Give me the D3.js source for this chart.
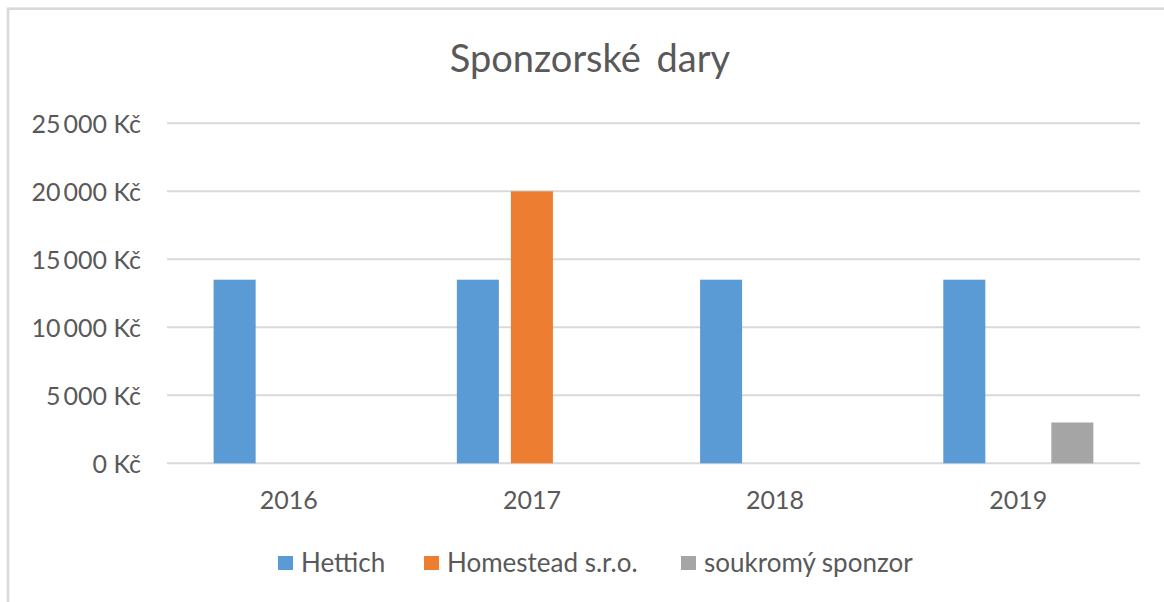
<!DOCTYPE html>
<html>
<head>
<meta charset="utf-8">
<script src="https://cdn.jsdelivr.net/npm/d3@7"></script>
<style>
    body { margin: 0; background: #fff; }
    svg { display: block; font-family: Lato, "Noto Sans", sans-serif; }
    .tick text { fill: #595959; }
</style>
</head>
<body>
<div id="chart"></div>
<script>
// chart data
var years = ['2016', '2017', '2018', '2019'];
var seriesNames = ['Hettich', 'Homestead s.r.o.', 'soukromý sponzor'];
var hettich = [13500, 13500, 13500, 13500];
var homestead = [0, 20000, 0, 0];
var soukromy = [0, 0, 0, 3000];
var yTicks = [0, 5000, 10000, 15000, 20000, 25000];
var colors = ['#5B9BD5', '#ED7D31', '#A5A5A5'];

var W = 1164, H = 602;
var svg = d3.select('#chart')
    .append('svg')
    .attr('width', W)
    .attr('height', H);

// outer frame of the chart object (runs off the right and bottom edge)
svg.append('rect')
    .attr('x', 8).attr('y', 8.7)
    .attr('width', 1300).attr('height', 800)
    .attr('fill', 'none')
    .attr('stroke', '#d9d9d9')
    .attr('stroke-width', 2.6);

// title
svg.append('text')
    .attr('x', 590).attr('y', 72)
    .attr('text-anchor', 'middle')
    .attr('fill', '#595959')
    .style('font-size', '38px')
    .style('word-spacing', '6px')
    .text('Sponzorské dary');

var plotL = 167, plotR = 1140, plotT = 123.3, plotB = 463.3;

var x = d3.scaleBand()
    .domain(years)
    .range([plotL, plotR])
    .paddingInner(0.383)
    .paddingOuter(0.1917);

var xs = d3.scaleBand()
    .domain(seriesNames)
    .range([0, x.bandwidth()])
    .paddingInner(0.222);

var y = d3.scaleLinear()
    .domain([0, 25000])
    .range([plotB, plotT]);

var cz = d3.formatLocale({ decimal: ',', thousands: '\u2009', grouping: [3], currency: ['', '\u00a0Kč'] });
var fmt = cz.format('$,.0f');

// gridlines
svg.append('g')
    .selectAll('line')
    .data(yTicks)
    .join('line')
    .attr('x1', plotL).attr('x2', plotR)
    .attr('y1', function (d) { return y(d); })
    .attr('y2', function (d) { return y(d); })
    .attr('stroke', '#d9d9d9')
    .attr('stroke-width', 2);

// y axis labels
var yAxis = svg.append('g')
    .attr('transform', 'translate(' + (plotL - 26) + ',0)')
    .call(d3.axisLeft(y).tickValues(yTicks).tickFormat(fmt).tickSize(0).tickPadding(0))
    .attr('font-family', null);
yAxis.select('.domain').remove();
yAxis.selectAll('text')
    .style('font-size', '25px')
    .attr('dy', '0.38em');

// x axis labels
var xAxis = svg.append('g')
    .attr('transform', 'translate(0,' + plotB + ')')
    .call(d3.axisBottom(x).tickSize(0).tickPadding(0))
    .attr('font-family', null);
xAxis.select('.domain').remove();
xAxis.selectAll('text')
    .style('font-size', '25px')
    .attr('dy', '1.82em');

// bars
var series = [hettich, homestead, soukromy];
series.forEach(function (vals, si) {
    svg.append('g')
        .attr('fill', colors[si])
        .selectAll('rect')
        .data(vals)
        .join('rect')
        .attr('x', function (d, i) { return x(years[i]) + xs(seriesNames[si]); })
        .attr('width', xs.bandwidth())
        .attr('y', function (d) { return y(d); })
        .attr('height', function (d) { return y(0) - y(d); });
});

// legend
var legendX = [278, 424, 681];
var lg = svg.append('g');
seriesNames.forEach(function (name, i) {
    lg.append('rect')
        .attr('x', legendX[i]).attr('y', 556)
        .attr('width', 15).attr('height', 14)
        .attr('fill', colors[i]);
    lg.append('text')
        .attr('x', legendX[i] + 23).attr('y', 571.5)
        .attr('fill', '#595959')
        .style('font-size', '26px')
        .text(name);
});
</script>
</body>
</html>
